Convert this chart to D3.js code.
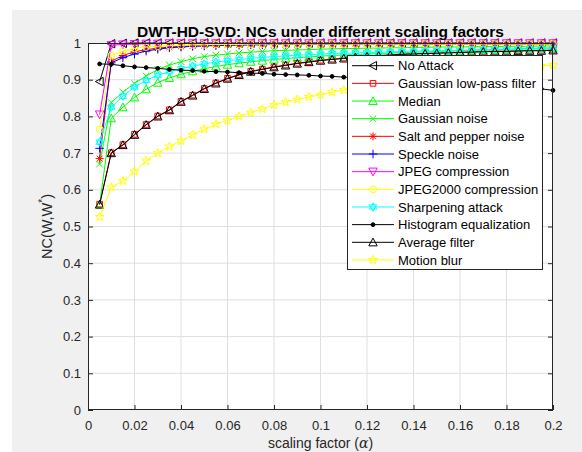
<!DOCTYPE html>
<html><head><meta charset="utf-8">
<script src="https://cdn.jsdelivr.net/npm/d3@7"></script>
<style>html,body{margin:0;padding:0;background:#fff;}svg{display:block;}</style>
</head><body>
<svg id="c" width="582" height="452"></svg>
<script>
const xs = [0.005,0.010,0.015,0.020,0.025,0.030,0.035,0.040,0.045,0.050,0.055,0.060,0.065,0.070,0.075,0.080,0.085,0.090,0.095,0.100,
            0.105,0.110,0.115,0.120,0.125,0.130,0.135,0.140,0.145,0.150,0.155,0.160,0.165,0.170,0.175,0.180,0.185,0.190,0.195,0.200];

const noAttack = [0.895,0.998,0.999,1,1,1,1,1,1,1,1,1,1,1,1,1,1,1,1,1,1,1,1,1,1,1,1,1,1,1,1,1,1,1,1,1,1,1,1,1];
const gaussianLowPass = [0.561,0.701,0.723,0.751,0.778,0.801,0.818,0.841,0.858,0.876,0.891,0.904,0.914,0.923,0.929,0.935,0.940,0.945,0.949,0.953,
                         0.956,0.959,0.962,0.964,0.966,0.968,0.970,0.971,0.972,0.973,0.974,0.975,0.976,0.977,0.978,0.978,0.979,0.980,0.980,0.981];
const median = [0.560,0.795,0.825,0.852,0.874,0.892,0.905,0.915,0.923,0.930,0.936,0.941,0.945,0.949,0.952,0.955,0.958,0.960,0.962,0.964,
                0.966,0.967,0.969,0.970,0.971,0.973,0.974,0.975,0.976,0.977,0.978,0.979,0.980,0.981,0.982,0.983,0.984,0.985,0.986,0.987];
const gaussianNoise = [0.670,0.838,0.866,0.890,0.910,0.928,0.940,0.949,0.957,0.963,0.967,0.970,0.973,0.975,0.977,0.979,0.980,0.981,0.982,0.983,
                       0.984,0.985,0.985,0.986,0.986,0.987,0.987,0.988,0.988,0.989,0.989,0.989,0.990,0.990,0.990,0.991,0.991,0.991,0.992,0.992];
const saltPepper = [0.685,0.950,0.966,0.976,0.982,0.986,0.989,0.991,0.992,0.993,0.994,0.995,0.995,0.996,0.996,0.996,0.997,0.997,0.997,0.997,
                    0.997,0.998,0.998,0.998,0.998,0.998,0.998,0.998,0.998,0.998,0.998,0.998,0.998,0.998,0.998,0.998,0.998,0.998,0.998,0.998];
const speckle = [0.713,0.946,0.960,0.970,0.978,0.983,0.987,0.989,0.991,0.992,0.993,0.994,0.994,0.995,0.995,0.996,0.996,0.996,0.996,0.997,
                 0.997,0.997,0.997,0.997,0.997,0.997,0.997,0.997,0.997,0.997,0.997,0.997,0.997,0.997,0.997,0.997,0.997,0.997,0.997,0.997];
const jpeg = [0.805,0.994,0.996,0.997,0.998,0.998,0.999,0.999,0.999,0.999,0.999,0.999,0.999,0.999,0.999,0.999,0.999,0.999,0.999,0.999,
              0.999,0.999,0.999,0.999,0.999,0.999,0.999,0.999,0.999,0.999,0.999,0.999,0.999,0.999,0.999,0.999,0.999,0.999,0.999,0.999];
const jpeg2000 = [0.765,0.966,0.978,0.985,0.989,0.991,0.993,0.994,0.995,0.995,0.996,0.996,0.996,0.997,0.997,0.997,0.997,0.997,0.997,0.997,
                  0.997,0.997,0.997,0.997,0.997,0.997,0.997,0.997,0.997,0.997,0.997,0.997,0.997,0.997,0.997,0.997,0.997,0.997,0.997,0.997];
const sharpening = [0.730,0.825,0.855,0.880,0.898,0.912,0.922,0.930,0.937,0.943,0.948,0.952,0.955,0.958,0.961,0.963,0.965,0.967,0.968,0.970,
                    0.971,0.972,0.973,0.974,0.975,0.976,0.977,0.978,0.978,0.979,0.980,0.980,0.981,0.982,0.982,0.983,0.983,0.984,0.984,0.985];
const histEqualization = [0.943,0.942,0.938,0.935,0.933,0.931,0.928,0.926,0.925,0.923,0.922,0.921,0.919,0.918,0.917,0.915,0.914,0.913,0.912,0.910,
                          0.909,0.907,0.906,0.905,0.904,0.902,0.901,0.899,0.898,0.896,0.894,0.892,0.890,0.888,0.886,0.884,0.881,0.878,0.875,0.871];
const averageFilter = [0.560,0.700,0.722,0.750,0.777,0.800,0.817,0.840,0.857,0.875,0.890,0.903,0.913,0.922,0.928,0.934,0.939,0.944,0.948,0.952,
                       0.955,0.958,0.961,0.963,0.965,0.967,0.969,0.970,0.971,0.972,0.973,0.974,0.975,0.976,0.977,0.977,0.978,0.979,0.979,0.980];
const motionBlur = [0.526,0.607,0.624,0.650,0.679,0.700,0.718,0.733,0.750,0.765,0.779,0.789,0.800,0.810,0.820,0.831,0.839,0.846,0.853,0.859,
                    0.866,0.872,0.877,0.882,0.887,0.891,0.895,0.899,0.903,0.907,0.911,0.914,0.918,0.921,0.924,0.927,0.930,0.933,0.937,0.940];

const seriesNames = ["No Attack","Gaussian low-pass filter","Median","Gaussian noise","Salt and pepper noise","Speckle noise",
                     "JPEG compression","JPEG2000 compression","Sharpening attack","Histogram equalization","Average filter","Motion blur"];
const seriesValues = [noAttack,gaussianLowPass,median,gaussianNoise,saltPepper,speckle,jpeg,jpeg2000,sharpening,histEqualization,averageFilter,motionBlur];
const seriesColors = ["#000000","#ff0000","#00ff00","#00ff00","#ff0000","#0000ff","#ff00ff","#ffff00","#00ffff","#000000","#000000","#ffff00"];
const seriesMarkers = ["triLeft","square","triUp","cross","asterisk","plus","triDown","circle","hexagram","dot","triUp","pentagram"];

const xTickValues = [0,0.02,0.04,0.06,0.08,0.1,0.12,0.14,0.16,0.18,0.2];
const xTickLabels = ["0","0.02","0.04","0.06","0.08","0.1","0.12","0.14","0.16","0.18","0.2"];
const yTickValues = [0,0.1,0.2,0.3,0.4,0.5,0.6,0.7,0.8,0.9,1];
const yTickLabels = ["0","0.1","0.2","0.3","0.4","0.5","0.6","0.7","0.8","0.9","1"];

const FONT = "'Liberation Sans', Arial, Helvetica, sans-serif";
const svg = d3.select("#c");
const L = 88, R = 553, T = 43, B = 410;

svg.append("rect").attr("x",12).attr("y",10).attr("width",582-12).attr("height",452-10).attr("fill","#f0f0f0");
svg.append("rect").attr("x",L).attr("y",T).attr("width",R-L).attr("height",B-T).attr("fill","#fff");

const x = d3.scaleLinear().domain([0,0.2]).range([L,R]);
const y = d3.scaleLinear().domain([0,1]).range([B,T]);

// grid
const grid = svg.append("g");
grid.selectAll("line.gx").data(xTickValues.slice(1,-1)).enter().append("line")
  .attr("x1",d=>x(d)).attr("x2",d=>x(d)).attr("y1",T).attr("y2",B).attr("stroke","#dfdfdf").attr("stroke-width",1);
grid.selectAll("line.gy").data(yTickValues.slice(1,-1)).enter().append("line")
  .attr("y1",d=>y(d)).attr("y2",d=>y(d)).attr("x1",L).attr("x2",R).attr("stroke","#dfdfdf").attr("stroke-width",1);

// marker shapes
function markerPath(type){
  const p = d3.path();
  if(type==="triLeft"){ const r=4.2; p.moveTo(-r,0); p.lineTo(r*0.85,-r); p.lineTo(r*0.85,r); p.closePath(); }
  else if(type==="triUp"){ const r=4.2; p.moveTo(0,-r); p.lineTo(r,r*0.85); p.lineTo(-r,r*0.85); p.closePath(); }
  else if(type==="triDown"){ const r=4.2; p.moveTo(0,r); p.lineTo(r,-r*0.85); p.lineTo(-r,-r*0.85); p.closePath(); }
  else if(type==="square"){ const r=2.8; p.rect(-r,-r,2*r,2*r); }
  else if(type==="circle"){ const r=3.4; p.moveTo(r,0); p.arc(0,0,r,0,2*Math.PI); }
  else if(type==="cross"){ const r=3.3; p.moveTo(-r,-r); p.lineTo(r,r); p.moveTo(-r,r); p.lineTo(r,-r); }
  else if(type==="plus"){ const r=4.3; p.moveTo(-r,0); p.lineTo(r,0); p.moveTo(0,-r); p.lineTo(0,r); }
  else if(type==="asterisk"){ const r=4, q=r*0.72; p.moveTo(-r,0); p.lineTo(r,0); p.moveTo(0,-r); p.lineTo(0,r); p.moveTo(-q,-q); p.lineTo(q,q); p.moveTo(-q,q); p.lineTo(q,-q); }
  else if(type==="hexagram"){ const r=4.2; for(let k=0;k<2;k++){ for(let i=0;i<3;i++){ const a=-Math.PI/2+k*Math.PI/3+i*2*Math.PI/3; const px=r*Math.cos(a), py=r*Math.sin(a); if(i===0)p.moveTo(px,py); else p.lineTo(px,py);} p.closePath(); } }
  else if(type==="pentagram"){ const r=4.6, ri=r*0.4; for(let i=0;i<10;i++){ const a=-Math.PI/2+i*Math.PI/5; const rr=(i%2===0)?r:ri; const px=rr*Math.cos(a), py=rr*Math.sin(a); if(i===0)p.moveTo(px,py); else p.lineTo(px,py);} p.closePath(); }
  else if(type==="dot"){ const r=1.9; p.moveTo(r,0); p.arc(0,0,r,0,2*Math.PI); }
  return p.toString();
}

const line = d3.line().x(d=>x(d[0])).y(d=>y(d[1]));
const plot = svg.append("g");
seriesValues.forEach((vals,si)=>{
  const pts = xs.map((xv,i)=>[xv,vals[i]]);
  const g = plot.append("g");
  g.append("path").attr("d",line(pts)).attr("fill","none").attr("stroke",seriesColors[si]).attr("stroke-width",1);
  g.selectAll("path.m").data(pts).enter().append("path").attr("class","m")
    .attr("transform",d=>`translate(${x(d[0])},${y(d[1])})`)
    .attr("d",markerPath(seriesMarkers[si]))
    .attr("fill",seriesMarkers[si]==="dot"?seriesColors[si]:"none")
    .attr("stroke",seriesColors[si]).attr("stroke-width",1);
});

// axes
const axCol = "#262626";
const xb = d3.axisBottom(x).tickValues(xTickValues).tickFormat((d,i)=>xTickLabels[i]).tickSizeInner(-5).tickSizeOuter(0).tickPadding(11);
const yl = d3.axisLeft(y).tickValues(yTickValues).tickFormat((d,i)=>yTickLabels[i]).tickSizeInner(-5).tickSizeOuter(0).tickPadding(7);
const xt = d3.axisTop(x).tickValues(xTickValues).tickFormat("").tickSizeInner(-5).tickSizeOuter(0);
const yr = d3.axisRight(y).tickValues(yTickValues).tickFormat("").tickSizeInner(-5).tickSizeOuter(0);
function styleAxis(g){ g.select(".domain").remove(); g.selectAll("line").attr("stroke",axCol); g.selectAll("text").attr("fill",axCol).style("font-family",FONT).style("font-size","13px"); }
svg.append("g").attr("transform",`translate(0,${B})`).call(xb).call(styleAxis);
svg.append("g").attr("transform",`translate(${L},0)`).call(yl).call(styleAxis);
svg.append("g").attr("transform",`translate(0,${T})`).call(xt).call(styleAxis);
svg.append("g").attr("transform",`translate(${R},0)`).call(yr).call(styleAxis);
svg.append("rect").attr("x",L+0.5).attr("y",T+0.5).attr("width",R-L-1).attr("height",B-T-1).attr("fill","none").attr("stroke",axCol).attr("stroke-width",1);

// title
svg.append("text").attr("x",(L+R)/2).attr("y",37).attr("text-anchor","middle")
  .style("font-family",FONT).style("font-size","15.5px").style("font-weight","bold").attr("fill","#000")
  .text("DWT-HD-SVD: NCs under different scaling factors");

// y label
const yLab = svg.append("text").attr("transform",`translate(52,${(T+B)/2}) rotate(-90)`).attr("text-anchor","middle")
  .style("font-family",FONT).style("font-size","14.5px").attr("fill",axCol);
yLab.append("tspan").text("NC(W,W");
yLab.append("tspan").attr("dy","-6").style("font-size","10px").text("*");
yLab.append("tspan").attr("dy","6").text(")");

// x label
const xLab = svg.append("text").attr("x",(L+R)/2).attr("y",448).attr("text-anchor","middle")
  .style("font-family",FONT).style("font-size","14px").attr("fill",axCol);
xLab.append("tspan").text("scaling factor (");
xLab.append("tspan").style("font-style","italic").style("font-family","'DejaVu Serif', serif").text("α");
xLab.append("tspan").text(")");

// legend
const lgX = 347, lgY = 55, lgW = 195, lgH = 214, rowH = 17.66, firstY = 65.7;
svg.append("rect").attr("x",lgX+0.5).attr("y",lgY+0.5).attr("width",lgW).attr("height",lgH).attr("fill","#fff").attr("stroke",axCol).attr("stroke-width",1);
seriesNames.forEach((name,si)=>{
  const cy = firstY + si*rowH;
  const g = svg.append("g");
  g.append("line").attr("x1",352).attr("x2",394).attr("y1",cy).attr("y2",cy).attr("stroke",seriesColors[si]).attr("stroke-width",1);
  g.append("path").attr("transform",`translate(373,${cy})`).attr("d",markerPath(seriesMarkers[si]))
    .attr("fill",seriesMarkers[si]==="dot"?seriesColors[si]:"none").attr("stroke",seriesColors[si]).attr("stroke-width",1);
  g.append("text").attr("x",398).attr("y",cy).attr("dy","0.35em").style("font-family",FONT).style("font-size","13px").attr("fill","#000").text(name);
});
</script>
</body></html>
